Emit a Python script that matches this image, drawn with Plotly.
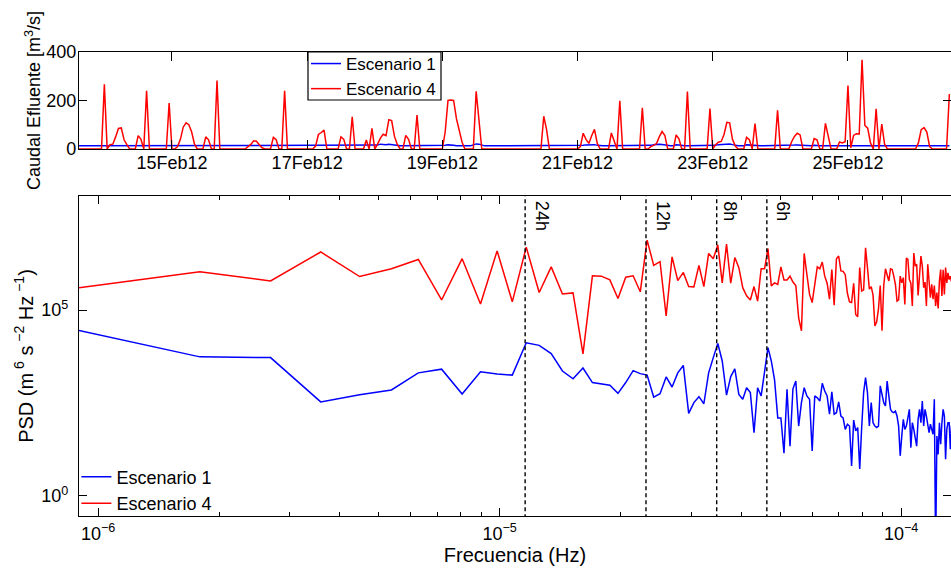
import numpy as np
import pandas as pd
import plotly.graph_objects as go

# ---------------------------------------------------------------------------
# Hourly effluent discharge [m3/s], starting 13-Feb-2012 15:00 (one row per day)
# ---------------------------------------------------------------------------
start_time = "2012-02-13 15:00"

caudal_esc4 = [
    0, 0, 0, 0, 0, 0, 0, 0, 0, 267, 0, 18, 20, 50, 85, 87, 38, 18, 0, 0, 0, 55, 40, 0,
    240, 0, 0, 0, 0, 0, 0, 0, 190, 0, 0, 10, 40, 90, 108, 100, 70, 20, 0, 0, 0, 50, 38, 0,
    0, 282, 0, 0, 0, 0, 0, 0, 0, 0, 0, 0, 10, 19, 34, 32, 18, 5, 0, 0, 0, 48, 38, 0,
    0, 240, 0, 0, 0, 0, 0, 0, 0, 0, 0, 0, 12, 60, 68, 78, 0, 0, 0, 0, 0, 50, 40, 0,
    0, 133, 0, 0, 0, 0, 37, 0, 85, 0, 20, 45, 61, 55, 121, 117, 52, 19, 0, 0, 56, 40, 0, 0,
    140, 0, 0, 0, 0, 0, 0, 0, 0, 0, 70, 200, 202, 200, 125, 70, 28, 0, 0, 0, 0, 238, 120, 0,
    0, 0, 0, 0, 0, 0, 0, 0, 0, 0, 0, 0, 0, 0, 0, 0, 0, 0, 0, 0, 0, 135, 80, 0,
    0, 0, 0, 0, 0, 0, 0, 0, 0, 0, 10, 65, 40, 23, 55, 81, 23, 0, 0, 0, 0, 66, 36, 0,
    199, 0, 0, 0, 0, 0, 0, 0, 170, 0, 0, 10, 15, 22, 50, 72, 55, 0, 0, 0, 58, 42, 0, 0,
    237, 0, 0, 0, 0, 0, 0, 0, 167, 0, 18, 28, 31, 60, 110, 108, 40, 12, 0, 0, 0, 48, 38, 0,
    105, 0, 0, 0, 0, 0, 0, 0, 160, 0, 0, 0, 0, 30, 52, 65, 58, 0, 0, 0, 0, 43, 38, 0,
    0, 106, 45, 0, 0, 0, 29, 25, 30, 262, 5, 56, 63, 62, 368, 97, 86, 25, 0, 166, 0, 103, 20, 0,
    0, 0, 0, 0, 0, 0, 0, 0, 0, 0, 25, 80, 88, 70, 10, 0, 0, 0, 0, 0, 0, 227,
]

caudal_esc1 = [
    13, 13, 13, 13, 13, 13, 13, 13, 13, 13, 13, 13, 13, 13, 13, 13, 13, 13, 13, 13, 13, 13, 13, 13,
    13, 13, 13, 13, 13, 13, 13, 13, 13, 13, 13, 13, 13, 13, 13, 13, 13, 13, 13, 13, 13, 13, 13, 13,
    13, 13, 13, 13, 13, 13, 13, 13, 13, 13, 13, 13, 13, 13, 13, 13, 13, 13, 13, 13, 13, 13, 13, 13,
    13, 13, 13, 13, 13, 13, 13, 13, 13, 13, 13, 13, 13, 13, 13, 13, 13, 13, 13, 13, 13, 13, 13, 13,
    13, 13, 13, 13, 13, 13, 13, 13, 13, 13, 16, 20, 18, 18, 20, 18, 15, 13, 13, 13, 13, 13, 13, 13,
    13, 13, 13, 13, 13, 13, 13, 13, 13, 13, 15, 17, 17, 15, 13, 13, 13, 13, 13, 13, 17, 21, 20, 16,
    13, 13, 13, 13, 13, 13, 13, 13, 13, 13, 13, 13, 13, 13, 13, 13, 13, 13, 13, 13, 13, 15, 13, 13,
    13, 13, 13, 13, 13, 13, 13, 13, 13, 13, 13, 15, 17, 18, 17, 18, 15, 13, 13, 13, 13, 16, 16, 13,
    13, 13, 13, 13, 13, 13, 13, 13, 13, 13, 13, 15, 18, 20, 20, 19, 16, 13, 13, 13, 17, 16, 13, 13,
    13, 13, 13, 13, 13, 13, 13, 13, 13, 13, 15, 18, 19, 21, 22, 21, 18, 15, 13, 13, 13, 17, 16, 13,
    13, 13, 13, 13, 13, 13, 13, 13, 16, 13, 13, 13, 13, 13, 16, 17, 16, 13, 13, 13, 13, 15, 13, 13,
    13, 13, 13, 13, 13, 13, 13, 13, 13, 13, 13, 13, 13, 13, 15, 13, 13, 13, 13, 13, 13, 13, 13, 13,
    13, 13, 13, 13, 13, 13, 13, 13, 13, 13, 13, 13, 13, 13, 13, 13, 13, 13, 13, 13, 13, 13,
]

date_ticks = ["2012-02-15", "2012-02-17", "2012-02-19", "2012-02-21", "2012-02-23", "2012-02-25"]
date_labels = ["15Feb12", "17Feb12", "19Feb12", "21Feb12", "23Feb12", "25Feb12"]

# ---------------------------------------------------------------------------
# Power spectral density, log10(PSD) for harmonics k = 1, 2, ... of the record
# ---------------------------------------------------------------------------
log_psd_esc4 = [
    5.60, 6.03, 5.78, 6.56, 5.90, 6.11, 6.36, 5.27, 6.38, 5.16,
    6.59, 5.22, 6.69, 5.47, 6.16, 5.43, 5.46, 3.82, 5.92, 5.91,
    5.81, 5.31, 5.88, 5.92, 5.49, 6.88, 6.20, 6.30, 4.84, 6.43,
    5.79, 6.01, 5.63, 5.62, 6.20, 5.63, 6.52, 6.38, 6.75, 5.73,
    6.77, 5.72, 6.41, 6.14, 5.60, 5.38, 5.27, 5.63, 5.24, 6.11,
    6.11, 6.65, 5.65, 5.73, 5.69, 6.16, 5.81, 5.81, 5.91, 5.75,
    5.66, 4.79, 4.44, 6.52, 5.96, 5.42, 5.20, 5.73, 6.16, 6.11,
    6.29, 5.91, 5.72, 5.29, 6.09, 5.13, 6.38, 6.45, 6.05, 6.04,
    5.95, 5.45, 5.22, 5.20, 5.72, 4.88, 4.82, 6.14, 5.51, 5.54,
    6.67, 6.14, 5.56, 5.63, 5.40, 4.57, 4.68, 5.03, 5.66, 4.44,
    5.66, 6.11, 5.96, 5.78, 6.11, 6.09, 5.91, 5.69, 5.24, 5.27,
    5.91, 5.73, 5.87, 5.15, 6.40, 6.36, 5.82, 5.72, 5.11, 6.53,
    6.18, 6.23, 5.39, 5.87, 6.45, 6.18, 5.60, 5.75, 5.11, 6.23,
    5.69, 5.33, 5.69, 5.29, 5.66, 5.11, 5.47, 5.04, 5.78, 6.09,
    5.38, 6.08, 5.42, 6.14, 5.73, 6.00, 5.82, 5.91, 5.75, 6.00,
]

log_psd_esc1 = [
    4.45, 3.74, 3.72, 2.53, 2.72, 2.85, 3.31, 3.41, 2.74, 3.34,
    3.28, 3.25, 4.12, 4.05, 3.83, 3.36, 3.15, 3.44, 3.05, 3.02,
    2.98, 2.76, 3.05, 3.37, 3.29, 3.25, 2.66, 2.75, 3.20, 2.93,
    3.31, 3.51, 2.22, 2.51, 2.67, 2.48, 3.31, 3.72, 4.10, 3.63,
    2.71, 3.21, 3.42, 2.73, 2.60, 2.91, 2.78, 1.70, 2.91, 2.69,
    3.41, 3.99, 3.63, 3.12, 2.10, 2.10, 1.15, 2.87, 1.34, 2.88,
    3.09, 1.88, 2.51, 2.91, 2.69, 2.60, 1.21, 2.69, 2.64, 2.55,
    3.03, 2.82, 2.69, 2.20, 2.80, 2.20, 2.24, 2.53, 2.15, 2.10,
    1.79, 1.93, 1.88, 0.81, 2.04, 1.75, 1.84, 0.73, 1.84, 2.78,
    3.18, 2.78, 1.88, 2.51, 1.97, 1.88, 1.84, 1.88, 2.96, 2.69,
    2.51, 2.42, 3.09, 2.69, 2.33, 2.26, 2.24, 2.28, 2.15, 1.88,
    1.08, 1.61, 2.06, 1.79, 1.88, 2.10, 2.33, 1.30, 1.97, 1.79,
    1.61, 1.34, 2.06, 2.33, 1.97, 2.55, 1.88, 2.33, 2.15, 1.88,
    1.70, 1.93, 1.79, 1.66, 2.60, -1.50, 1.61, 1.12, 1.97, 1.39,
    1.97, 2.33, 2.15, 0.99, 1.79, 1.97, 1.97, 1.26, 1.90, 1.60,
]

# Reference periods marked on the spectrum (hours) and their label offsets (px)
periodos_h = [24, 12, 8, 6]
periodos_txt = ["24h", "12h", "8h", "6h"]
periodos_dx = [5, 5, 1, 4]

# ---------------------------------------------------------------------------
FONT = "Liberation Sans, Arial, Helvetica, sans-serif"
BLUE = "rgb(0,0,255)"
RED = "rgb(255,0,0)"

n_hours = len(caudal_esc4)
t = pd.date_range(start_time, periods=n_hours, freq="h")
t_end = pd.Timestamp(start_time) + pd.Timedelta(hours=309.58)

df = 1.0 / (n_hours * 3600.0)                    # frequency resolution [Hz]
freq = np.arange(1, len(log_psd_esc4) + 1) * df
psd4 = 10.0 ** np.array(log_psd_esc4)
psd1 = 10.0 ** np.array(log_psd_esc1)

fig = go.Figure()

# --- upper panel: discharge time series
fig.add_trace(go.Scatter(x=t, y=caudal_esc1, mode="lines", name="Escenario 1",
                         line=dict(color=BLUE, width=1.5), xaxis="x", yaxis="y",
                         legend="legend"))
fig.add_trace(go.Scatter(x=t, y=caudal_esc4, mode="lines", name="Escenario 4",
                         line=dict(color=RED, width=1.5), xaxis="x", yaxis="y",
                         legend="legend"))

# --- lower panel: spectra
fig.add_trace(go.Scatter(x=freq, y=psd1, mode="lines", name="Escenario 1",
                         line=dict(color=BLUE, width=1.5), xaxis="x2", yaxis="y2",
                         legend="legend2"))
fig.add_trace(go.Scatter(x=freq, y=psd4, mode="lines", name="Escenario 4",
                         line=dict(color=RED, width=1.5), xaxis="x2", yaxis="y2",
                         legend="legend2"))

x2_range = [np.log10(df), np.log10(df) + 872 / 401.5]
y2_range = [-0.538, 8.065]

for p, txt, dx in zip(periodos_h, periodos_txt, periodos_dx):
    fp = 1.0 / (p * 3600.0)
    fig.add_trace(go.Scatter(x=[fp, fp], y=[10 ** (y2_range[0] - 1), 10 ** (y2_range[1] + 1)],
                             mode="lines", showlegend=False, hoverinfo="skip",
                             line=dict(color="black", width=1.4, dash="4px,3px"),
                             xaxis="x2", yaxis="y2"))
    fig.add_annotation(x=np.log10(fp), xref="x2", y=1, yref="y2 domain",
                       text=txt, textangle=90, showarrow=False,
                       xanchor="left", yanchor="top", xshift=dx, yshift=-3,
                       font=dict(family=FONT, size=18, color="black"))

# frame around the upper legend (px -> paper fractions of the 872x464 plot area)
fig.add_shape(type="rect", xref="paper", yref="paper",
              x0=(308 - 79) / 872, x1=(441 - 79) / 872,
              y0=(516 - 100) / 464, y1=1.0,
              line=dict(color="black", width=1.2), fillcolor="white", layer="below")

axis_common = dict(showline=True, linecolor="black", linewidth=1.2, mirror="ticks",
                   ticks="inside", tickcolor="black", showgrid=False, zeroline=False,
                   tickfont=dict(family=FONT, size=18, color="black"))

top_dom = [(516 - 149) / 464, 1.0]
bot_dom = [0.0, (516 - 196) / 464]

minor_vals = [m * 10.0 ** e for e in (-7, -6, -5, -4) for m in range(2, 10)]

fig.update_layout(
    width=951, height=568,
    margin=dict(l=79, r=0, t=52, b=52),
    paper_bgcolor="white", plot_bgcolor="white",
    font=dict(family=FONT, size=18, color="black"),
    xaxis=dict(axis_common, domain=[0, 1], anchor="y", type="date",
               range=[pd.Timestamp(start_time), t_end],
               tickmode="array", tickvals=date_ticks, ticktext=date_labels,
               ticklen=9, ticklabelstandoff=-3),
    yaxis=dict(axis_common, domain=top_dom, anchor="x", range=[0, 400],
               tickmode="array", tickvals=[0, 200, 400], ticklen=8,
               ticklabelstandoff=-2,
               title=dict(text="Caudal Efluente [m<sup>3</sup>/s]",
                          font=dict(family=FONT, size=18), standoff=0)),
    xaxis2=dict(axis_common, domain=[0, 1], anchor="y2", type="log",
                range=x2_range, tickmode="array",
                tickvals=[1e-6, 1e-5, 1e-4],
                ticktext=["10<sup>\u22126</sup>", "10<sup>\u22125</sup>", "10<sup>\u22124</sup>"],
                ticklen=8, ticklabelstandoff=1,
                minor=dict(tickmode="array", tickvals=minor_vals, ticks="inside",
                           ticklen=4, tickcolor="black"),
                title=dict(text="Frecuencia (Hz)", font=dict(family=FONT, size=20),
                           standoff=3)),
    yaxis2=dict(axis_common, domain=bot_dom, anchor="x2", type="log",
                range=y2_range, tickmode="array", tickvals=[1, 1e5],
                ticktext=["10<sup>0</sup>", "10<sup>5</sup>"], ticklen=8,
                ticklabelstandoff=6,
                title=dict(text="PSD (m<sup> 6</sup> s<sup> \u22122</sup> Hz<sup> \u22121</sup>)",
                           font=dict(family=FONT, size=20), standoff=2)),
    legend=dict(x=(306 - 79) / 872, y=1.0 + 6 / 464, xanchor="left", yanchor="top",
                xref="paper", yref="paper",
                bgcolor="rgba(0,0,0,0)", borderwidth=0,
                font=dict(family=FONT, size=17), itemwidth=30,
                tracegroupgap=0),
    legend2=dict(x=-0.003, y=-0.012, xanchor="left", yanchor="bottom",
                 xref="paper", yref="paper",
                 bgcolor="rgba(0,0,0,0)", borderwidth=0,
                 font=dict(family=FONT, size=18), itemwidth=30,
                 tracegroupgap=0),
)

fig.write_html("out.html")
